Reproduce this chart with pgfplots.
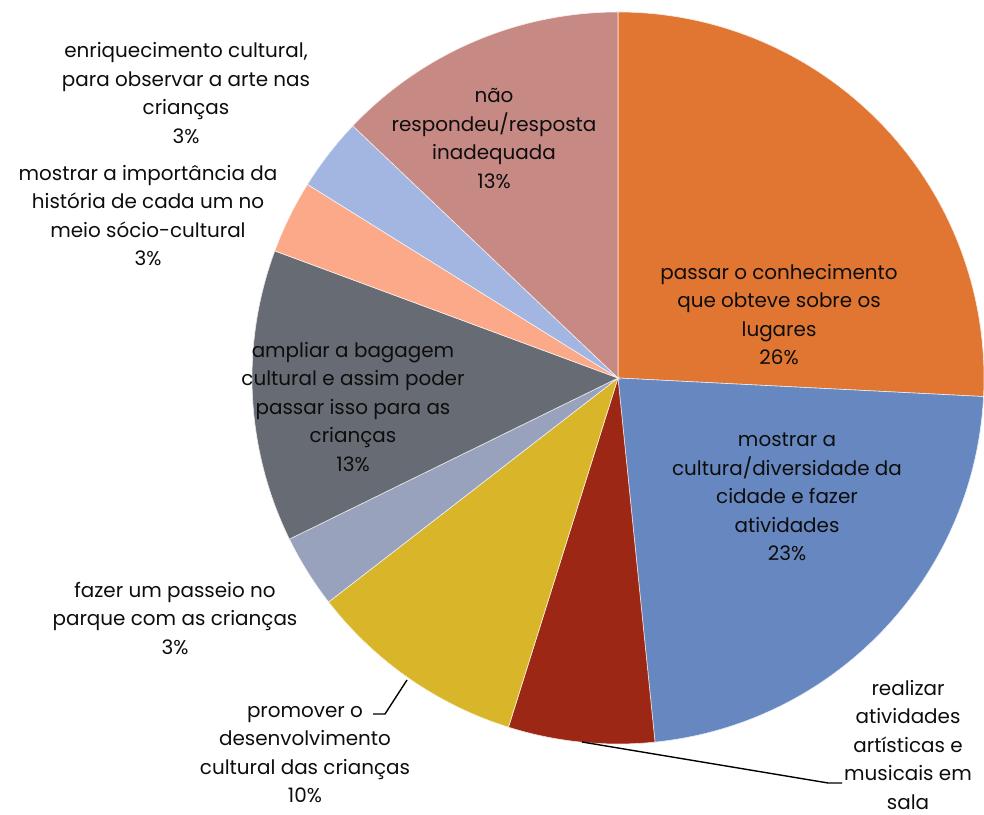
\documentclass[border=0pt]{standalone}
\usepackage{pgfplots}
\pgfplotsset{compat=1.18}
\usepackage{pgfplotstable}
\usepackage{fontspec}
\setmainfont{Poppins}

\definecolor{c0}{HTML}{E07632}
\definecolor{c1}{HTML}{6787C0}
\definecolor{c2}{HTML}{9C2715}
\definecolor{c3}{HTML}{D9B52A}
\definecolor{c4}{HTML}{98A2BC}
\definecolor{c5}{HTML}{676C74}
\definecolor{c6}{HTML}{FCA98A}
\definecolor{c7}{HTML}{A3B6E1}
\definecolor{c8}{HTML}{C78983}
\definecolor{txt}{HTML}{0D0D0D}

% counts of answers, clockwise from 12 o'clock
\pgfplotstableread[col sep=comma]{
idx,count
0,8
1,7
2,2
3,3
4,1
5,4
6,1
7,1
8,4
}\piedata

\pgfmathsetmacro\total{0}
\pgfplotsforeachungrouped \i in {0,...,8}{%
  \pgfplotstablegetelem{\i}{count}\of\piedata
  \pgfmathsetmacro\total{\total+\pgfplotsretval}%
}
\def\cum{0}
\pgfplotsforeachungrouped \i in {0,...,8}{%
  \pgfplotstablegetelem{\i}{count}\of\piedata
  \pgfmathsetmacro\sa{90-360*\cum/\total}%
  \pgfmathsetmacro\cum{\cum+\pgfplotsretval}%
  \pgfmathsetmacro\ea{90-360*\cum/\total}%
  \expandafter\xdef\csname sa\i\endcsname{\sa}%
  \expandafter\xdef\csname ea\i\endcsname{\ea}%
}

\begin{document}
\begin{tikzpicture}
\begin{axis}[
  width=984bp, height=815bp, scale only axis,
  xmin=0, xmax=984, ymin=0, ymax=815,
  hide axis, clip=false,
]
\pgfplotsinvokeforeach{0,...,8}{%
  \fill[c#1, draw=white!85!c#1, line width=0.6pt]
    (axis cs:618,437) -- ++(\csname sa#1\endcsname:366bp)
    arc[start angle=\csname sa#1\endcsname, end angle=\csname ea#1\endcsname, radius=366bp] -- cycle;
}
\draw[black, line width=1.4pt] (axis cs:373,101) -- (axis cs:385,101) -- (axis cs:407,135);
\draw[black, line width=1.4pt] (axis cs:842,32) -- (axis cs:828,32) -- (axis cs:582,73);

\tikzset{lab/.style={align=center, text=txt, font=\fontsize{20}{28.6}\selectfont, inner sep=0pt}}
\node[lab] at (axis cs:779,500.5) {passar o conhecimento\\que obteve sobre os\\lugares\\26\%};
\node[lab] at (axis cs:787,318) {mostrar a\\cultura/diversidade da\\cidade e fazer\\atividades\\23\%};
\node[lab] at (axis cs:908,70) {realizar\\atividades\\artísticas e\\musicais em\\sala};
\node[lab] at (axis cs:305,60.5) {promover o\\desenvolvimento\\cultural das crianças\\10\%};
\node[lab] at (axis cs:175,196.5) {fazer um passeio no\\parque com as crianças\\3\%};
\node[lab] at (axis cs:353,408) {ampliar a bagagem\\cultural e assim poder\\passar isso para as\\crianças\\13\%};
\node[lab] at (axis cs:148,599.5) {mostrar a importância da\\história de cada um no\\meio sócio-cultural\\3\%};
\node[lab] at (axis cs:186,722) {enriquecimento cultural,\\para observar a arte nas\\crianças\\3\%};
\node[lab] at (axis cs:494,676.5) {não\\respondeu/resposta\\inadequada\\13\%};

\coordinate (ll) at (axis cs:0,0);
\coordinate (ur) at (axis cs:984,815);
\end{axis}
\pgfresetboundingbox
\useasboundingbox (ll) rectangle (ur);
\end{tikzpicture}
\end{document}
